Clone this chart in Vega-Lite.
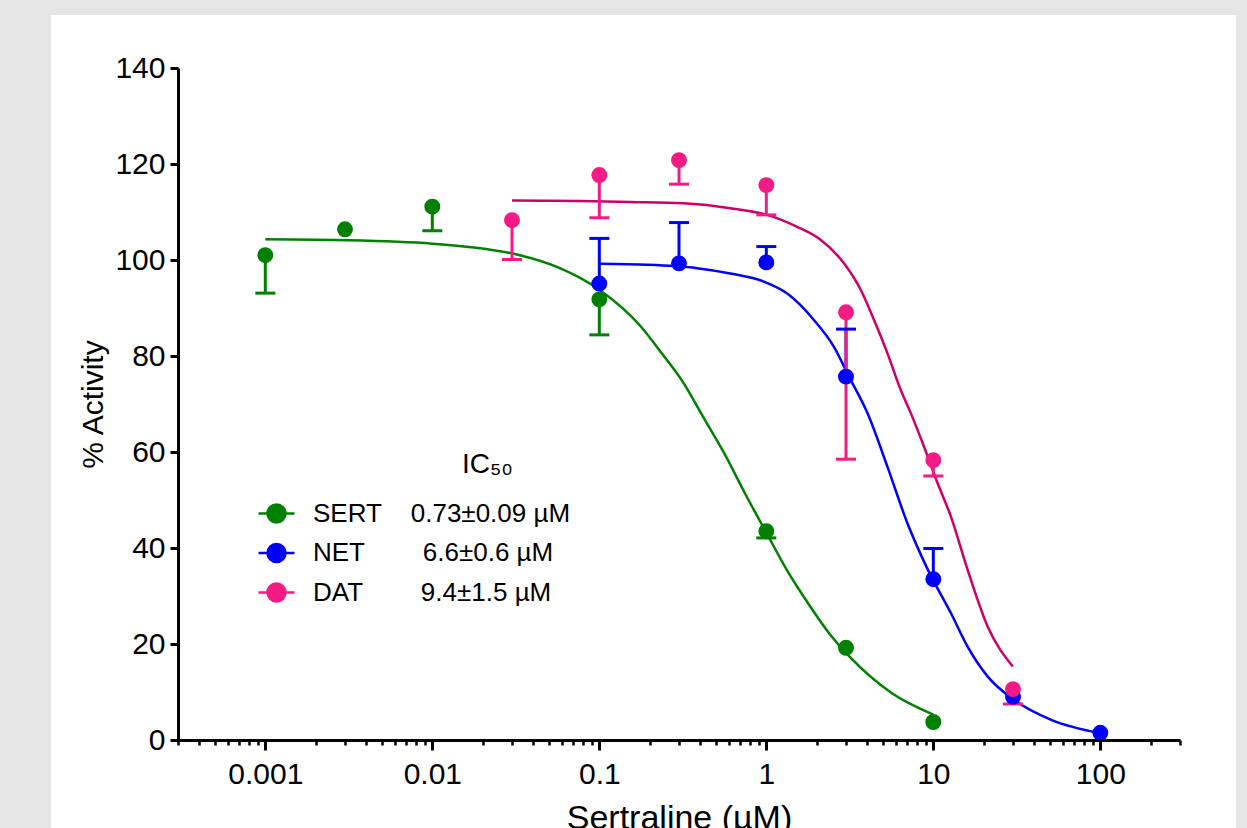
{
  "$schema": "https://vega.github.io/schema/vega-lite/v6.json",
  "width": 1002,
  "height": 672,
  "autosize": {"type": "none"},
  "padding": {"left": 178, "top": 68, "right": 67, "bottom": 88},
  "background": "#e6e6e6",
  "datasets": {
    "pts": [
      {"series": "NET", "x": 0.1, "y": 95.1, "e": 104.5},
      {"series": "NET", "x": 0.3, "y": 99.3, "e": 107.8},
      {"series": "NET", "x": 1, "y": 99.5, "e": 102.8},
      {"series": "NET", "x": 3, "y": 75.7, "e": 85.6},
      {"series": "NET", "x": 10, "y": 33.5, "e": 39.9},
      {"series": "NET", "x": 30, "y": 9.0, "e": null},
      {"series": "NET", "x": 100, "y": 1.5, "e": null},
      {"series": "DAT", "x": 0.03, "y": 108.3, "e": 100.1},
      {"series": "DAT", "x": 0.1, "y": 117.7, "e": 108.8},
      {"series": "DAT", "x": 0.3, "y": 120.8, "e": 115.8},
      {"series": "DAT", "x": 1, "y": 115.6, "e": 109.4},
      {"series": "DAT", "x": 3, "y": 89.1, "e": 58.5},
      {"series": "DAT", "x": 10, "y": 58.3, "e": 55.0},
      {"series": "DAT", "x": 30, "y": 10.6, "e": 7.5},
      {"series": "SERT", "x": 0.001, "y": 101.0, "e": 93.1},
      {"series": "SERT", "x": 0.003, "y": 106.4, "e": null},
      {"series": "SERT", "x": 0.01, "y": 111.1, "e": 106.1},
      {"series": "SERT", "x": 0.1, "y": 91.8, "e": 84.4},
      {"series": "SERT", "x": 1, "y": 43.5, "e": 42.1},
      {"series": "SERT", "x": 3, "y": 19.2, "e": null},
      {"series": "SERT", "x": 10, "y": 3.75, "e": null}
    ],
    "fits": [
      {"series": "SERT", "x": 0.001, "y": 104.3},
      {"series": "SERT", "x": 0.003162, "y": 104.1},
      {"series": "SERT", "x": 0.01, "y": 103.4},
      {"series": "SERT", "x": 0.01778, "y": 102.6},
      {"series": "SERT", "x": 0.03162, "y": 101.2},
      {"series": "SERT", "x": 0.05623, "y": 98.5},
      {"series": "SERT", "x": 0.1, "y": 93.8},
      {"series": "SERT", "x": 0.1778, "y": 86.1},
      {"series": "SERT", "x": 0.2371, "y": 80.5},
      {"series": "SERT", "x": 0.3162, "y": 74.6},
      {"series": "SERT", "x": 0.4217, "y": 67.1},
      {"series": "SERT", "x": 0.5623, "y": 59.6},
      {"series": "SERT", "x": 0.75, "y": 51.2},
      {"series": "SERT", "x": 1, "y": 43.2},
      {"series": "SERT", "x": 1.334, "y": 35.3},
      {"series": "SERT", "x": 1.778, "y": 28.5},
      {"series": "SERT", "x": 2.371, "y": 22.3},
      {"series": "SERT", "x": 3.162, "y": 17.3},
      {"series": "SERT", "x": 5.623, "y": 9.8},
      {"series": "SERT", "x": 10, "y": 5.3},
      {"series": "NET", "x": 0.1, "y": 99.2},
      {"series": "NET", "x": 0.1928, "y": 99.0},
      {"series": "NET", "x": 0.3846, "y": 98.3},
      {"series": "NET", "x": 0.6095, "y": 97.2},
      {"series": "NET", "x": 0.9661, "y": 95.5},
      {"series": "NET", "x": 1.334, "y": 93.0},
      {"series": "NET", "x": 1.928, "y": 87.5},
      {"series": "NET", "x": 2.541, "y": 81.9},
      {"series": "NET", "x": 3.126, "y": 75.7},
      {"series": "NET", "x": 4.032, "y": 68.1},
      {"series": "NET", "x": 5.315, "y": 56.9},
      {"series": "NET", "x": 7.006, "y": 45.1},
      {"series": "NET", "x": 9.237, "y": 35.6},
      {"series": "NET", "x": 12.76, "y": 26.4},
      {"series": "NET", "x": 16.07, "y": 19.4},
      {"series": "NET", "x": 21.18, "y": 13.2},
      {"series": "NET", "x": 30.62, "y": 8.3},
      {"series": "NET", "x": 50.82, "y": 4.2},
      {"series": "NET", "x": 100, "y": 1.4},
      {"series": "DAT", "x": 0.03, "y": 112.4},
      {"series": "DAT", "x": 0.07674, "y": 112.3},
      {"series": "DAT", "x": 0.1531, "y": 112.1},
      {"series": "DAT", "x": 0.3199, "y": 111.8},
      {"series": "DAT", "x": 0.6095, "y": 110.8},
      {"series": "DAT", "x": 1.0116, "y": 109.4},
      {"series": "DAT", "x": 1.531, "y": 106.9},
      {"series": "DAT", "x": 2.113, "y": 104.2},
      {"series": "DAT", "x": 2.917, "y": 99.3},
      {"series": "DAT", "x": 3.673, "y": 93.8},
      {"series": "DAT", "x": 4.416, "y": 87.5},
      {"series": "DAT", "x": 5.309, "y": 80.6},
      {"series": "DAT", "x": 6.383, "y": 72.9},
      {"series": "DAT", "x": 7.328, "y": 68.1},
      {"series": "DAT", "x": 8.71, "y": 61.5},
      {"series": "DAT", "x": 10.47, "y": 54.0},
      {"series": "DAT", "x": 12.76, "y": 46.5},
      {"series": "DAT", "x": 16.07, "y": 35.4},
      {"series": "DAT", "x": 21.18, "y": 23.6},
      {"series": "DAT", "x": 29.92, "y": 15.3}
    ]
  },
  "layer": [
    {
      "data": {"values": [{}]},
      "mark": {"type": "rect", "clip": false, "color": "white"},
      "encoding": {
        "x": {"datum": 0.000052, "type": "quantitative", "scale": {"type": "log", "domain": [0.0003, 300], "nice": false}},
        "x2": {"datum": 650},
        "y": {"datum": 151.04, "type": "quantitative", "scale": {"domain": [0, 140], "nice": false, "zero": false}},
        "y2": {"datum": -20}
      }
    },
    {
      "encoding": {
        "x": {
          "field": "x", "type": "quantitative",
          "scale": {"type": "log", "domain": [0.0003, 300], "nice": false},
          "axis": {
            "zindex": 2,
            "title": "Sertraline (µM)",
            "titleFontSize": 34,
            "titlePadding": 12,
            "values": [0.0003, 0.0004, 0.0005, 0.0006, 0.0007, 0.0008, 0.0009, 0.001, 0.002, 0.003, 0.004, 0.005, 0.006, 0.007, 0.008, 0.009, 0.01, 0.02, 0.03, 0.04, 0.05, 0.06, 0.07, 0.08, 0.09, 0.1, 0.2, 0.3, 0.4, 0.5, 0.6, 0.7, 0.8, 0.9, 1, 2, 3, 4, 5, 6, 7, 8, 9, 10, 20, 30, 40, 50, 60, 70, 80, 90, 100, 200, 300],
            "labelExpr": "abs(log(datum.value)/LN10 - round(log(datum.value)/LN10)) < 0.001 ? format(datum.value, '~g') : ''",
            "tickSize": {"condition": {"test": "abs(log(datum.value)/LN10 - round(log(datum.value)/LN10)) < 0.001", "value": 10}, "value": 5},
            "tickWidth": {"condition": {"test": "abs(log(datum.value)/LN10 - round(log(datum.value)/LN10)) < 0.001", "value": 3}, "value": 2.5},
            "labelPadding": 9,
            "labelFlush": false,
            "labelOverlap": false
          }
        },
        "y": {
          "field": "y", "type": "quantitative",
          "scale": {"domain": [0, 140], "nice": false, "zero": false},
          "axis": {
            "zindex": 2,
            "title": "% Activity",
            "titleFontSize": 30,
            "titlePadding": 6,
            "values": [0, 20, 40, 60, 80, 100, 120, 140],
            "tickSize": 8,
            "labelPadding": 5
          }
        },
        "color": {
          "field": "series", "type": "nominal",
          "scale": {"domain": ["SERT", "NET", "DAT"], "range": ["#008000", "#0000ff", "#f41b84"]},
          "legend": {
            "orient": "none",
            "legendX": 79,
            "legendY": 383,
            "direction": "vertical",
            "padding": 0,
            "title": "IC₅₀",
            "titleFontSize": 28,
            "titleFontWeight": "normal",
            "titleColor": "black",
            "titleAnchor": "start",
            "titleAlign": "left",
            "titlePadding": 15,
            "symbolType": "M-1,0H1M-0.5,0A0.5,0.5,0,1,0,0.5,0A0.5,0.5,0,1,0,-0.5,0Z",
            "symbolSize": 1296,
            "symbolStrokeWidth": 2.5,
            "labelFontSize": 26,
            "labelOffset": 17,
            "labelColor": "black",
            "labelLimit": 500,
            "rowPadding": 5.5,
            "labelExpr": "datum.label == 'SERT' ? 'SERT\u00a0\u00a0\u00a0\u00a00.73±0.09 µM' : datum.label == 'NET' ? 'NET\u00a0\u00a0\u00a0\u00a0\u00a0\u00a0\u00a0\u00a06.6±0.6 µM' : 'DAT\u00a0\u00a0\u00a0\u00a0\u00a0\u00a0\u00a0\u00a09.4±1.5 µM'",
            "encode": {
              "title": {"update": {"dx": {"value": 205}}},
              "symbols": {
                "update": {
                  "stroke": {"scale": "stroke", "field": "value"},
                  "fill": {"scale": "color", "field": "value"},
                  "strokeWidth": {"value": 2.5},
                  "opacity": {"value": 1}
                }
              }
            }
          }
        }
      },
      "layer": [
        {
          "data": {"name": "fits"},
          "mark": {"type": "line", "interpolate": "monotone", "strokeWidth": 2.5, "clip": false},
          "encoding": {
            "stroke": {"field": "series", "type": "nominal", "scale": {"domain": ["DAT", "NET", "SERT"], "range": ["#cc0066", "#0000ff", "#008000"]}, "legend": null}
          }
        },
        {
          "data": {"name": "pts"},
          "transform": [{"filter": "datum.e != null"}],
          "mark": {"type": "rule", "strokeWidth": 3},
          "encoding": {
            "y2": {"field": "e"}
          }
        },
        {
          "data": {"name": "pts"},
          "transform": [{"filter": "datum.e != null"}],
          "mark": {"type": "tick", "orient": "horizontal", "size": 20, "thickness": 3, "opacity": 1},
          "encoding": {
            "y": {"field": "e", "type": "quantitative"}
          }
        },
        {
          "data": {"name": "pts"},
          "mark": {"type": "point", "filled": true, "size": 254, "opacity": 1, "strokeWidth": 0}
        }
      ]
    }
  ],
  "config": {
    "font": "Liberation Sans",
    "view": {"stroke": null},
    "axis": {
      "grid": false,
      "domainColor": "black",
      "domainWidth": 3,
      "tickColor": "black",
      "tickWidth": 3,
      "labelColor": "black",
      "labelFontSize": 30,
      "labelFont": "Liberation Sans",
      "titleFont": "Liberation Sans",
      "titleColor": "black",
      "titleFontWeight": "normal"
    },
    "legend": {"labelFont": "Liberation Sans", "titleFont": "Liberation Sans"}
  }
}
